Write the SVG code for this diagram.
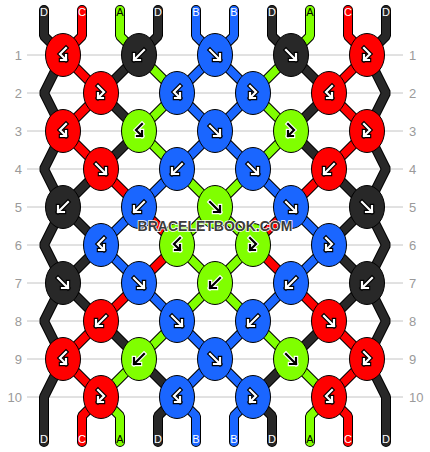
<svg xmlns="http://www.w3.org/2000/svg" xmlns:xlink="http://www.w3.org/1999/xlink" width="430" height="452" viewBox="0 0 430 452">
<style>
.row{stroke:#c4c4c4;stroke-width:1}
.rl{font-family:"Liberation Sans",Arial,sans-serif;font-size:13px;fill:#9a9a9a}
.rl.l{text-anchor:end}
.so{fill:none;stroke:#000;stroke-width:10;stroke-linecap:round;stroke-linejoin:bevel}
.sc{fill:none;stroke-width:8;stroke-linecap:round;stroke-linejoin:bevel}
.sR{stroke:#ff0000}.sK{stroke:#282828}.sG{stroke:#80ff00}.sU{stroke:#1a66ff}
.k ellipse{stroke:#000;stroke-width:1}
.R{fill:#ff0000}.K{fill:#282828}.G{fill:#80ff00}.U{fill:#1a66ff}
.w{color:#000;stroke:#fff}.b{color:#fff;stroke:#000}
.lab{font-family:"Liberation Sans",Arial,sans-serif;font-size:11px;text-anchor:middle;fill:#fff}
.lab.d{fill:#000}
.wm{font-family:"Liberation Sans",Arial,sans-serif;font-weight:bold;font-size:14px;text-anchor:middle;fill:#3c3c3c;stroke:#fff;stroke-width:1.5;paint-order:stroke}
</style>
<defs>
<g id="F" fill="none" stroke-linecap="square"><path d="M-5,-5L5,5M5,-1L5,5L-1,5" stroke="currentColor" stroke-width="4.5"/><path d="M-5,-5L5,5M5,-1L5,5L-1,5" stroke-width="2.2"/></g>
<g id="B" fill="none" stroke-linecap="square"><path d="M5,-5L-5,5M-5,-1L-5,5L1,5" stroke="currentColor" stroke-width="4.5"/><path d="M5,-5L-5,5M-5,-1L-5,5L1,5" stroke-width="2.2"/></g>
<g id="BF" fill="none" stroke-linecap="square"><path d="M3,-7L-3,-1L3,5M3,0L3,5L-2,5" stroke="currentColor" stroke-width="4.5"/><path d="M3,-7L-3,-1L3,5M3,0L3,5L-2,5" stroke-width="2.2"/></g>
<g id="FB" fill="none" stroke-linecap="square"><path d="M-3,-7L3,-1L-3,5M-3,0L-3,5L2,5" stroke="currentColor" stroke-width="4.5"/><path d="M-3,-7L3,-1L-3,5M-3,0L-3,5L2,5" stroke-width="2.2"/></g>
<path id="p0" d="M44,10L44,36L63,55L44,93L63,131L44,169L63,207L101,245L63,283L44,321L63,359L44,397L44,442"/>
<path id="p1" d="M82,10L82,36L63,55L101,93L63,131L101,169L139,207L177,245L139,283L101,321L63,359L101,397L82,416L82,442"/>
<path id="p2" d="M120,10L120,36L139,55L177,93L139,131L177,169L215,207L253,245L215,283L177,321L139,359L101,397L120,416L120,442"/>
<path id="p3" d="M158,10L158,36L139,55L101,93L139,131L101,169L63,207L44,245L63,283L101,321L139,359L177,397L158,416L158,442"/>
<path id="p4" d="M196,10L196,36L215,55L253,93L215,131L177,169L139,207L101,245L139,283L177,321L215,359L253,397L234,416L234,442"/>
<path id="p5" d="M234,10L234,36L215,55L177,93L215,131L253,169L291,207L329,245L291,283L253,321L215,359L177,397L196,416L196,442"/>
<path id="p6" d="M272,10L272,36L291,55L329,93L291,131L329,169L367,207L386,245L367,283L329,321L291,359L253,397L272,416L272,442"/>
<path id="p7" d="M310,10L310,36L291,55L253,93L291,131L253,169L215,207L177,245L215,283L253,321L291,359L329,397L310,416L310,442"/>
<path id="p8" d="M348,10L348,36L367,55L329,93L367,131L329,169L291,207L253,245L291,283L329,321L367,359L329,397L348,416L348,442"/>
<path id="p9" d="M386,10L386,36L367,55L386,93L367,131L386,169L367,207L329,245L367,283L386,321L367,359L386,397L386,442"/>
</defs>
<rect width="430" height="452" fill="#fff"/>
<g id="rows">
<line class="row" x1="27" y1="55" x2="403" y2="55"/>
<line class="row" x1="27" y1="93" x2="403" y2="93"/>
<line class="row" x1="27" y1="131" x2="403" y2="131"/>
<line class="row" x1="27" y1="169" x2="403" y2="169"/>
<line class="row" x1="27" y1="207" x2="403" y2="207"/>
<line class="row" x1="27" y1="245" x2="403" y2="245"/>
<line class="row" x1="27" y1="283" x2="403" y2="283"/>
<line class="row" x1="27" y1="321" x2="403" y2="321"/>
<line class="row" x1="27" y1="359" x2="403" y2="359"/>
<line class="row" x1="27" y1="397" x2="403" y2="397"/>
<text class="rl l" x="22" y="59.5">1</text><text class="rl" x="409" y="59.5">1</text>
<text class="rl l" x="22" y="97.5">2</text><text class="rl" x="409" y="97.5">2</text>
<text class="rl l" x="22" y="135.5">3</text><text class="rl" x="409" y="135.5">3</text>
<text class="rl l" x="22" y="173.5">4</text><text class="rl" x="409" y="173.5">4</text>
<text class="rl l" x="22" y="211.5">5</text><text class="rl" x="409" y="211.5">5</text>
<text class="rl l" x="22" y="249.5">6</text><text class="rl" x="409" y="249.5">6</text>
<text class="rl l" x="22" y="287.5">7</text><text class="rl" x="409" y="287.5">7</text>
<text class="rl l" x="22" y="325.5">8</text><text class="rl" x="409" y="325.5">8</text>
<text class="rl l" x="22" y="363.5">9</text><text class="rl" x="409" y="363.5">9</text>
<text class="rl l" x="22" y="401.5">10</text><text class="rl" x="409" y="401.5">10</text>
</g>
<g id="connectors">
<use href="#p0" class="so"/><use href="#p0" class="sc sK"/>
<use href="#p1" class="so"/><use href="#p1" class="sc sR"/>
<use href="#p2" class="so"/><use href="#p2" class="sc sG"/>
<use href="#p3" class="so"/><use href="#p3" class="sc sK"/>
<use href="#p4" class="so"/><use href="#p4" class="sc sU"/>
<use href="#p5" class="so"/><use href="#p5" class="sc sU"/>
<use href="#p6" class="so"/><use href="#p6" class="sc sK"/>
<use href="#p7" class="so"/><use href="#p7" class="sc sG"/>
<use href="#p8" class="so"/><use href="#p8" class="sc sR"/>
<use href="#p9" class="so"/><use href="#p9" class="sc sK"/>
</g>
<g id="labels">
<text class="lab" x="44" y="16">D</text><text class="lab" x="82" y="16">C</text><text class="lab d" x="120" y="16">A</text><text class="lab" x="158" y="16">D</text><text class="lab" x="196" y="16">B</text><text class="lab" x="234" y="16">B</text><text class="lab" x="272" y="16">D</text><text class="lab d" x="310" y="16">A</text><text class="lab" x="348" y="16">C</text><text class="lab" x="386" y="16">D</text>
<text class="lab" x="44" y="443">D</text><text class="lab" x="82" y="443">C</text><text class="lab d" x="120" y="443">A</text><text class="lab" x="158" y="443">D</text><text class="lab" x="196" y="443">B</text><text class="lab" x="234" y="443">B</text><text class="lab" x="272" y="443">D</text><text class="lab d" x="310" y="443">A</text><text class="lab" x="348" y="443">C</text><text class="lab" x="386" y="443">D</text>
</g>
<g id="knots">
<g id="k1-1" class="k" transform="translate(63,55)"><ellipse rx="17.5" ry="21.5" class="R"/><use href="#BF" class="w"/></g>
<g id="k1-2" class="k" transform="translate(139,55)"><ellipse rx="17.5" ry="21.5" class="K"/><use href="#B" class="w"/></g>
<g id="k1-3" class="k" transform="translate(215,55)"><ellipse rx="17.5" ry="21.5" class="U"/><use href="#F" class="w"/></g>
<g id="k1-4" class="k" transform="translate(291,55)"><ellipse rx="17.5" ry="21.5" class="K"/><use href="#F" class="w"/></g>
<g id="k1-5" class="k" transform="translate(367,55)"><ellipse rx="17.5" ry="21.5" class="R"/><use href="#FB" class="w"/></g>
<g id="k2-1" class="k" transform="translate(101,93)"><ellipse rx="17.5" ry="21.5" class="R"/><use href="#FB" class="w"/></g>
<g id="k2-2" class="k" transform="translate(177,93)"><ellipse rx="17.5" ry="21.5" class="U"/><use href="#BF" class="w"/></g>
<g id="k2-3" class="k" transform="translate(253,93)"><ellipse rx="17.5" ry="21.5" class="U"/><use href="#FB" class="w"/></g>
<g id="k2-4" class="k" transform="translate(329,93)"><ellipse rx="17.5" ry="21.5" class="R"/><use href="#BF" class="w"/></g>
<g id="k3-1" class="k" transform="translate(63,131)"><ellipse rx="17.5" ry="21.5" class="R"/><use href="#BF" class="w"/></g>
<g id="k3-2" class="k" transform="translate(139,131)"><ellipse rx="17.5" ry="21.5" class="G"/><use href="#BF" class="b"/></g>
<g id="k3-3" class="k" transform="translate(215,131)"><ellipse rx="17.5" ry="21.5" class="U"/><use href="#F" class="w"/></g>
<g id="k3-4" class="k" transform="translate(291,131)"><ellipse rx="17.5" ry="21.5" class="G"/><use href="#FB" class="b"/></g>
<g id="k3-5" class="k" transform="translate(367,131)"><ellipse rx="17.5" ry="21.5" class="R"/><use href="#FB" class="w"/></g>
<g id="k4-1" class="k" transform="translate(101,169)"><ellipse rx="17.5" ry="21.5" class="R"/><use href="#F" class="w"/></g>
<g id="k4-2" class="k" transform="translate(177,169)"><ellipse rx="17.5" ry="21.5" class="U"/><use href="#B" class="w"/></g>
<g id="k4-3" class="k" transform="translate(253,169)"><ellipse rx="17.5" ry="21.5" class="U"/><use href="#F" class="w"/></g>
<g id="k4-4" class="k" transform="translate(329,169)"><ellipse rx="17.5" ry="21.5" class="R"/><use href="#B" class="w"/></g>
<g id="k5-1" class="k" transform="translate(63,207)"><ellipse rx="17.5" ry="21.5" class="K"/><use href="#B" class="w"/></g>
<g id="k5-2" class="k" transform="translate(139,207)"><ellipse rx="17.5" ry="21.5" class="U"/><use href="#B" class="w"/></g>
<g id="k5-3" class="k" transform="translate(215,207)"><ellipse rx="17.5" ry="21.5" class="G"/><use href="#F" class="b"/></g>
<g id="k5-4" class="k" transform="translate(291,207)"><ellipse rx="17.5" ry="21.5" class="U"/><use href="#F" class="w"/></g>
<g id="k5-5" class="k" transform="translate(367,207)"><ellipse rx="17.5" ry="21.5" class="K"/><use href="#F" class="w"/></g>
<g id="k6-1" class="k" transform="translate(101,245)"><ellipse rx="17.5" ry="21.5" class="U"/><use href="#BF" class="w"/></g>
<g id="k6-2" class="k" transform="translate(177,245)"><ellipse rx="17.5" ry="21.5" class="G"/><use href="#BF" class="b"/></g>
<g id="k6-3" class="k" transform="translate(253,245)"><ellipse rx="17.5" ry="21.5" class="G"/><use href="#FB" class="b"/></g>
<g id="k6-4" class="k" transform="translate(329,245)"><ellipse rx="17.5" ry="21.5" class="U"/><use href="#FB" class="w"/></g>
<g id="k7-1" class="k" transform="translate(63,283)"><ellipse rx="17.5" ry="21.5" class="K"/><use href="#F" class="w"/></g>
<g id="k7-2" class="k" transform="translate(139,283)"><ellipse rx="17.5" ry="21.5" class="U"/><use href="#F" class="w"/></g>
<g id="k7-3" class="k" transform="translate(215,283)"><ellipse rx="17.5" ry="21.5" class="G"/><use href="#B" class="b"/></g>
<g id="k7-4" class="k" transform="translate(291,283)"><ellipse rx="17.5" ry="21.5" class="U"/><use href="#B" class="w"/></g>
<g id="k7-5" class="k" transform="translate(367,283)"><ellipse rx="17.5" ry="21.5" class="K"/><use href="#B" class="w"/></g>
<g id="k8-1" class="k" transform="translate(101,321)"><ellipse rx="17.5" ry="21.5" class="R"/><use href="#B" class="w"/></g>
<g id="k8-2" class="k" transform="translate(177,321)"><ellipse rx="17.5" ry="21.5" class="U"/><use href="#F" class="w"/></g>
<g id="k8-3" class="k" transform="translate(253,321)"><ellipse rx="17.5" ry="21.5" class="U"/><use href="#B" class="w"/></g>
<g id="k8-4" class="k" transform="translate(329,321)"><ellipse rx="17.5" ry="21.5" class="R"/><use href="#F" class="w"/></g>
<g id="k9-1" class="k" transform="translate(63,359)"><ellipse rx="17.5" ry="21.5" class="R"/><use href="#BF" class="w"/></g>
<g id="k9-2" class="k" transform="translate(139,359)"><ellipse rx="17.5" ry="21.5" class="G"/><use href="#B" class="b"/></g>
<g id="k9-3" class="k" transform="translate(215,359)"><ellipse rx="17.5" ry="21.5" class="U"/><use href="#F" class="w"/></g>
<g id="k9-4" class="k" transform="translate(291,359)"><ellipse rx="17.5" ry="21.5" class="G"/><use href="#F" class="b"/></g>
<g id="k9-5" class="k" transform="translate(367,359)"><ellipse rx="17.5" ry="21.5" class="R"/><use href="#FB" class="w"/></g>
<g id="k10-1" class="k" transform="translate(101,397)"><ellipse rx="17.5" ry="21.5" class="R"/><use href="#FB" class="w"/></g>
<g id="k10-2" class="k" transform="translate(177,397)"><ellipse rx="17.5" ry="21.5" class="U"/><use href="#BF" class="w"/></g>
<g id="k10-3" class="k" transform="translate(253,397)"><ellipse rx="17.5" ry="21.5" class="U"/><use href="#FB" class="w"/></g>
<g id="k10-4" class="k" transform="translate(329,397)"><ellipse rx="17.5" ry="21.5" class="R"/><use href="#BF" class="w"/></g>
</g>
<text class="wm" x="215" y="231">BRACELETBOOK.COM</text>
</svg>
